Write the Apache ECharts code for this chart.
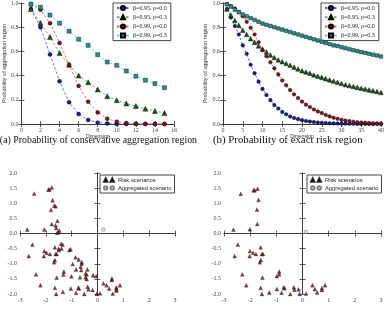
<!DOCTYPE html>
<html>
<head>
<meta charset="utf-8">
<script src="https://cdn.jsdelivr.net/npm/echarts@6/dist/echarts.min.js"></script>
<style>
  html, body { margin: 0; padding: 0; background: #fff; }
  #chart { width: 387px; height: 314px; }
</style>
</head>
<body>
<div id="chart"></div>
<script>
// ---- data ----
var dimA = [1, 2, 3, 4, 5, 6, 7, 8, 9, 10, 11, 12, 13, 14, 15];
var a95r0 = [0.95, 0.80, 0.575, 0.353, 0.18, 0.082, 0.033, 0.011, 0.004, 0.001, 0.0, 0.0, 0.0, 0.0, 0.0];
var a95r3 = [0.95, 0.835, 0.718, 0.586, 0.49, 0.40, 0.345, 0.285, 0.23, 0.197, 0.17, 0.148, 0.126, 0.107, 0.09];
var a99r0 = [0.99, 0.945, 0.833, 0.67, 0.49, 0.315, 0.183, 0.096, 0.044, 0.019, 0.008, 0.003, 0.001, 0.0, 0.0];
var a99r3 = [0.99, 0.965, 0.90, 0.833, 0.767, 0.70, 0.65, 0.573, 0.512, 0.485, 0.438, 0.395, 0.362, 0.334, 0.30];

var dimB = [1, 2, 3, 4, 5, 6, 7, 8, 9, 10, 11, 12, 13, 14, 15, 16, 17, 18, 19, 20,
            21, 22, 23, 24, 25, 26, 27, 28, 29, 30, 31, 32, 33, 34, 35, 36, 37, 38, 39, 40];
var b95r0 = [0.95, 0.88, 0.81, 0.74, 0.65, 0.58, 0.49, 0.42, 0.35, 0.29, 0.24, 0.197, 0.156, 0.128, 0.10, 0.08, 0.062, 0.05, 0.04, 0.032,
             0.025, 0.02, 0.016, 0.012, 0.01, 0.008, 0.006, 0.005, 0.004, 0.003, 0.003, 0.002, 0.002, 0.001, 0.001, 0.001, 0.001, 0.0, 0.0, 0.0];
var b95r3 = [0.95, 0.90, 0.855, 0.815, 0.775, 0.74, 0.705, 0.675, 0.645, 0.62, 0.595, 0.57, 0.55, 0.53, 0.515, 0.50, 0.485, 0.47, 0.455, 0.44,
             0.43, 0.42, 0.405, 0.395, 0.385, 0.375, 0.365, 0.355, 0.345, 0.335, 0.325, 0.318, 0.31, 0.303, 0.296, 0.289, 0.282, 0.275, 0.268, 0.26];
var b99r0 = [0.99, 0.975, 0.955, 0.925, 0.89, 0.845, 0.795, 0.74, 0.675, 0.61, 0.56, 0.51, 0.46, 0.41, 0.36, 0.32, 0.28, 0.245, 0.215, 0.185,
             0.16, 0.14, 0.12, 0.104, 0.09, 0.075, 0.063, 0.052, 0.043, 0.035, 0.029, 0.024, 0.019, 0.015, 0.012, 0.01, 0.008, 0.006, 0.005, 0.004];
var b99r3 = [0.99, 0.97, 0.945, 0.925, 0.905, 0.89, 0.875, 0.86, 0.845, 0.83, 0.82, 0.81, 0.80, 0.79, 0.78, 0.77, 0.76, 0.75, 0.74, 0.73,
             0.72, 0.71, 0.70, 0.69, 0.68, 0.67, 0.66, 0.65, 0.645, 0.635, 0.627, 0.618, 0.61, 0.602, 0.595, 0.588, 0.58, 0.573, 0.566, 0.558];

var seriesNames = ['β=0.95, ρ=0.0', 'β=0.95, ρ=0.3', 'β=0.99, ρ=0.0', 'β=0.99, ρ=0.3'];

// scatter panels: [x, y]
var riskLeft = [
  [-1.77, 1.52], [-1.86, 1.45], [-1.9, 1.45], [-2.45, 1.32], [-1.74, 1.10], [-1.67, 0.92], [-1.62, 0.90], [-1.8, 0.78],
  [-1.55, 0.42], [-1.77, 0.31], [-1.62, 0.27], [-1.6, 0.18], [-2.72, 0.13], [-2.06, 0.13], [-1.48, 0.10], [-1.52, 0.05],
  [-1.56, 0.02], [-2.52, -0.37], [-1.41, -0.34], [-1.35, -0.37], [-1.65, -0.46], [-1.5, -0.5], [-1.5, -0.55], [-1.39, -0.50],
  [-2.06, -0.58], [-1.97, -0.64], [-1.84, -0.68], [-1.62, -0.68], [-1.58, -0.68], [-2.66, -0.75], [-2.08, -0.75],
  [-1.09, -0.55], [-1.04, -0.52], [-1.65, -0.88], [-1.68, -0.95], [-0.85, -0.79], [-0.73, -0.86], [-0.61, -0.95],
  [-0.61, -1.0], [-0.96, -1.01], [-0.65, -1.1], [-0.83, -1.19], [-0.39, -1.19], [-0.63, -1.21], [-1.3, -1.26],
  [-1.32, -1.36], [-2.38, -1.35], [-0.46, -1.32], [-0.42, -1.36], [-0.17, -1.38], [-0.05, -1.41], [-1.01, -1.42],
  [-0.68, -1.45], [-1.58, -1.46], [-0.46, -1.45], [-0.42, -1.51], [0.56, -1.49], [0.55, -1.54], [0.23, -1.65],
  [0.87, -1.71], [0.35, -1.71], [-2.21, -1.71], [-0.38, -1.76], [-1.65, -1.80], [-1.03, -1.82], [-0.72, -1.82],
  [-0.74, -1.79], [-0.35, -1.85], [-0.19, -1.87], [0.73, -1.78], [0.73, -1.85], [0.73, -1.89], [0.45, -1.82],
  [-1.34, -1.93], [-0.83, -1.96], [-1.6, -2.0], [-0.51, -2.0], [-0.03, -2.0], [0.1, -1.98], [0.59, -1.99]
];
var aggLeft = [[0.23, 0.13]];

var riskRight = [
  [-1.72, 1.48], [-1.83, 1.43], [-1.87, 1.43], [-2.36, 1.31], [-1.68, 1.11], [-1.74, 0.79], [-1.73, 0.31], [-2.64, 0.13],
  [-2.01, 0.14], [-2.47, -0.37], [-1.6, -0.46], [-2.01, -0.58], [-1.89, -0.64], [-1.78, -0.68], [-1.55, -0.68],
  [-1.51, -0.68], [-2.59, -0.75], [-2.02, -0.75], [-1.59, -0.88], [-1.63, -0.95], [-0.89, -1.26], [-0.89, -1.35],
  [-2.3, -1.35], [-0.98, -1.41], [-1.53, -1.46], [0.38, -1.71], [0.86, -1.71], [-2.15, -1.71], [-0.33, -1.78],
  [-0.69, -1.81], [-0.72, -1.78], [-1.6, -1.80], [-0.98, -1.84], [-0.31, -1.86], [-0.15, -1.85], [0.47, -1.84],
  [0.74, -1.81], [0.74, -1.87], [-1.27, -1.95], [-0.8, -1.96], [-1.55, -2.0], [-0.47, -2.0], [-0.11, -2.0],
  [0.14, -1.99], [0.56, -1.95]
];
var aggRight = [[0.13, 0.05]];

// ---- styles ----
var markerColors = ['#1c1c86', '#1f4d1f', '#7a1818', '#2a8f8a'];
var lineColors = ['#5a5ae0', '#5aaa5a', '#e06464', '#5fd0cc'];
var symbols = ['circle', 'triangle', 'circle', 'rect'];
var frame = '#333';
var serif = 'Liberation Serif';
var sans = 'Liberation Sans';

var grids = [
  {left: 18, top: 2, width: 156, height: 122},
  {left: 223, top: 2, width: 159, height: 122},
  {left: 20, top: 173, width: 155, height: 121},
  {left: 224, top: 173, width: 157, height: 121}
];

var xAxes = [];
var yAxes = [];

function addAxes(gi, xr, yr, xname, yname) {
  var tickStyle = {show: true, inside: true, length: 3, lineStyle: {color: frame, width: 0.8}};
  var lineSt = {show: true, lineStyle: {color: frame, width: 0.8}};
  xAxes.push({
    type: 'value', gridIndex: gi, min: xr[0], max: xr[1], interval: xr[2], position: 'bottom',
    axisLine: lineSt, axisTick: tickStyle, splitLine: {show: false},
    axisLabel: {fontSize: 6, color: '#444', fontFamily: serif, margin: 3,
      formatter: function (v) { return String(v); }},
    name: xname, nameLocation: 'middle', nameGap: 9,
    nameTextStyle: {fontSize: 5, color: '#333', fontFamily: sans}
  });
  xAxes.push({
    type: 'value', gridIndex: gi, min: xr[0], max: xr[1], interval: xr[2], position: 'top',
    axisLine: lineSt, axisTick: tickStyle, axisLabel: {show: false}, splitLine: {show: false}
  });
  yAxes.push({
    type: 'value', gridIndex: gi, min: yr[0], max: yr[1], interval: yr[2], position: 'left',
    axisLine: lineSt, axisTick: tickStyle, splitLine: {show: false},
    axisLabel: {fontSize: 6, color: '#444', fontFamily: serif, margin: 3,
      formatter: function (v) { return v.toFixed(1); }},
    name: yname, nameLocation: 'middle', nameRotate: 90, nameGap: 12,
    nameTextStyle: {fontSize: 5.5, color: '#333', fontFamily: sans}
  });
  yAxes.push({
    type: 'value', gridIndex: gi, min: yr[0], max: yr[1], interval: yr[2], position: 'right',
    axisLine: lineSt, axisTick: tickStyle, axisLabel: {show: false}, splitLine: {show: false}
  });
}

addAxes(0, [0, 16, 2], [0, 1, 0.2], 'Dimension', 'Probability of aggregation region');
addAxes(1, [0, 40, 5], [0, 1, 0.2], 'Dimension', 'Probability of aggregation region');
addAxes(2, [-3, 3, 1], [-2, 2, 0.5], '', '');
addAxes(3, [-3, 3, 1], [-2, 2, 0.5], '', '');

function zip(xs, ys) {
  return xs.map(function (x, i) { return [x, ys[i]]; });
}

function lineSeries(name, k, xs, ys, axisIdx, size) {
  return {
    name: name, type: 'line', xAxisIndex: axisIdx, yAxisIndex: axisIdx,
    data: zip(xs, ys), symbol: symbols[k], symbolSize: symbols[k] === 'triangle' ? size + 1 : size,
    showAllSymbol: true, clip: false,
    lineStyle: {color: lineColors[k], width: 0.9, type: [2.5, 2]},
    itemStyle: {color: markerColors[k], borderColor: '#000', borderWidth: 0.4},
    emphasis: {disabled: true}, animation: false, z: 3 + k
  };
}

var series = [];
var setsA = [a95r0, a95r3, a99r0, a99r3];
var setsB = [b95r0, b95r3, b99r0, b99r3];
for (var k = 0; k < 4; k++) series.push(lineSeries(seriesNames[k], k, dimA, setsA[k], 0, 4));
for (var k = 0; k < 4; k++) series.push(lineSeries(seriesNames[k], k, dimB, setsB[k], 2, 3.6));

function scatterPair(risk, agg, axisIdx) {
  return [{
    name: 'Risk scenarios', type: 'scatter', xAxisIndex: axisIdx, yAxisIndex: axisIdx,
    data: risk, symbol: 'triangle', symbolSize: 3.8, clip: false,
    itemStyle: {color: '#5e0f1c', borderColor: '#000', borderWidth: 0.3},
    emphasis: {disabled: true}
  }, {
    name: 'Aggregated scenario', type: 'scatter', xAxisIndex: axisIdx, yAxisIndex: axisIdx,
    data: agg, symbol: 'circle', symbolSize: 3.6,
    itemStyle: {color: '#eedcdc', borderColor: '#666', borderWidth: 0.6},
    emphasis: {disabled: true}
  }];
}
series = series.concat(scatterPair(riskLeft, aggLeft, 4), scatterPair(riskRight, aggRight, 6));

function legendBox(left, top, names, font, gap) {
  return {
    left: left, top: top, orient: 'vertical', data: names,
    itemWidth: 12, itemHeight: 5, itemGap: gap, padding: [2, 4, 2, 3],
    borderColor: '#444', borderWidth: 1, backgroundColor: '#fff',
    textStyle: {fontSize: 6, color: '#222', fontFamily: font, padding: [0, 0, 0, -1]},
    selectedMode: false, animation: false
  };
}

var twoTriangles = 'path://M0,9 L4.5,0 L9,9 Z M17,9 L21.5,0 L26,9 Z';
var twoCircles = 'path://M0,4.5 A4.5,4.5 0 1,0 9,4.5 A4.5,4.5 0 1,0 0,4.5 Z M17,4.5 A4.5,4.5 0 1,0 26,4.5 A4.5,4.5 0 1,0 17,4.5 Z';

function scatterLegend(left) {
  var lg = legendBox(left, 175, [
    {name: 'Risk scenarios', icon: twoTriangles},
    {name: 'Aggregated scenario', icon: twoCircles}
  ], sans, 2);
  lg.itemWidth = 10;
  lg.itemHeight = 3.6;
  lg.textStyle.fontSize = 5.8;
  lg.padding = [2, 3, 2, 3];
  return lg;
}

var option = {
  animation: false,
  grid: grids,
  xAxis: xAxes,
  yAxis: yAxes,
  legend: [
    legendBox(113, 3, seriesNames, serif, 3.2),
    legendBox(321, 3, seriesNames, serif, 3.2),
    scatterLegend(100),
    scatterLegend(307)
  ],
  series: series,
  graphic: [
    {type: 'text', x: 197, y: 140,
     style: {text: '(a) Probability of conservative aggregation region', font: '9.9px "Liberation Serif"',
             fill: '#111', align: 'right', verticalAlign: 'middle'}},
    {type: 'text', x: 213, y: 140,
     style: {text: '(b) Probability of exact risk region', font: '10.8px "Liberation Serif"',
             fill: '#111', align: 'left', verticalAlign: 'middle'}}
  ]
};

var myChart = echarts.init(document.getElementById('chart'), null, {renderer: 'canvas'});
myChart.setOption(option);
</script>
</body>
</html>
